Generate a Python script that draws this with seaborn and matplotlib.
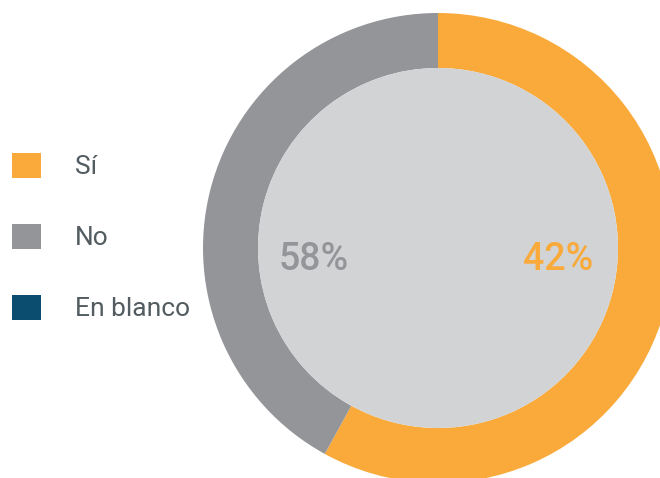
import matplotlib
matplotlib.use("Agg")
import matplotlib.pyplot as plt
import seaborn as sns
from matplotlib.patches import Patch, Circle

# data
categories = ["Sí", "No", "En blanco"]
values = [58, 42, 0]              # visual share of the ring
pct_labels = ["42%", "58%"]       # printed labels (as shown in the source)
colors = ["#f9aa3a", "#939598", "#0b4d6f"]

sns.set_theme(style="white")
plt.rcParams["font.family"] = ["Roboto", "DejaVu Sans"]
palette = sns.color_palette(colors)

W, H = 660, 478
fig = plt.figure(figsize=(W / 100, H / 100), dpi=100)
ax = fig.add_axes([0, 0, 1, 1])

cx, cy = 438, H - 248
R, r = 235, 180
ax.pie(values, colors=palette, startangle=90, counterclock=False,
       center=(cx, cy), radius=R,
       wedgeprops=dict(width=R - r, linewidth=0, antialiased=True))
ax.add_patch(Circle((cx, cy), r, facecolor="#d1d3d4", edgecolor="none"))

ax.set_xlim(0, W)
ax.set_ylim(0, H)
ax.set_aspect("equal")
ax.axis("off")

pct_font = dict(fontsize=27, fontweight="medium", ha="center", va="center",
                family=["Roboto", "DejaVu Sans"])
ax.text(558, H - 259, pct_labels[0], color=palette[0], **pct_font)
ax.text(314, H - 259, pct_labels[1], color=palette[1], **pct_font)

fs = 19
handles = [Patch(facecolor=palette[i], edgecolor="none") for i in range(3)]
leg = ax.legend(handles, categories, loc="upper left",
                bbox_to_anchor=(12 / W, 1 - 153 / H),
                frameon=False, fontsize=fs, handlelength=1.08, handleheight=1.08,
                handletextpad=1.3, labelspacing=1.68, borderpad=0, borderaxespad=0)
for t in leg.get_texts():
    t.set_color("#535c60")

fig.savefig("out.png", dpi=100)
